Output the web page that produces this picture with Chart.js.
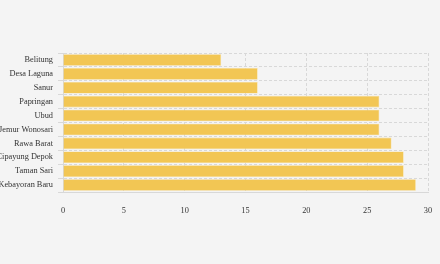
<!DOCTYPE html>
<html lang="id">
<head>
    <meta charset="UTF-8">
    <title>Bar chart</title>
    <style>
        html, body {
            margin: 0;
            padding: 0;
            background: #f4f4f4;
        }
        #wrap {
            width: 440px;
            height: 264px;
            position: relative;
        }
    </style>
</head>
<body>
    <div id="wrap"><canvas id="chart" width="440" height="264"></canvas></div>

    <script src="https://cdn.jsdelivr.net/npm/chart.js"></script>
    <script>
        const categories = ['Belitung', 'Desa Laguna', 'Sanur', 'Papringan', 'Ubud',
            'Jemur Wonosari', 'Rawa Barat', 'Cipayung Depok', 'Taman Sari', 'Kebayoran Baru'];
        const values = [13, 16, 16, 26, 26, 26, 27, 28, 28, 29];
        const xTicks = [0, 5, 10, 15, 20, 25, 30];

        const gridColor = '#d8d8d8';
        const tickFont = { family: '"Liberation Serif", "DejaVu Serif", serif', size: 8.3 };

        new Chart(document.getElementById('chart'), {
            type: 'bar',
            data: {
                labels: categories,
                datasets: [{
                    data: values,
                    backgroundColor: '#f2c654',
                    borderColor: '#f7d98a',
                    borderWidth: 0.6,
                    barPercentage: 0.87,
                    categoryPercentage: 0.96
                }]
            },
            options: {
                indexAxis: 'y',
                responsive: false,
                animation: false,
                layout: { padding: { top: 53, right: 12, bottom: 42, left: 0 } },
                plugins: {
                    legend: { display: false },
                    tooltip: { enabled: false }
                },
                scales: {
                    x: {
                        min: 0,
                        max: 30,
                        afterBuildTicks: (s) => { s.ticks = xTicks.map(v => ({ value: v })); },
                        afterFit: (s) => { s.height = 30; s.paddingLeft = 0; s.paddingRight = 0; },
                        grid: { color: gridColor, drawTicks: false, lineWidth: 1 },
                        border: { display: true, dash: [3, 2], color: gridColor },
                        ticks: { color: '#333', font: tickFont, padding: 14, maxRotation: 0 }
                    },
                    y: {
                        afterFit: (s) => { s.width = 63; s.paddingTop = 0; s.paddingBottom = 0; },
                        grid: { color: gridColor, drawTicks: true, tickLength: 5, offset: true, lineWidth: 1 },
                        border: { display: true, dash: [3, 2], color: gridColor },
                        ticks: { color: '#333', font: tickFont, padding: 5, autoSkip: false }
                    }
                }
            }
        });
    </script>
</body>
</html>
